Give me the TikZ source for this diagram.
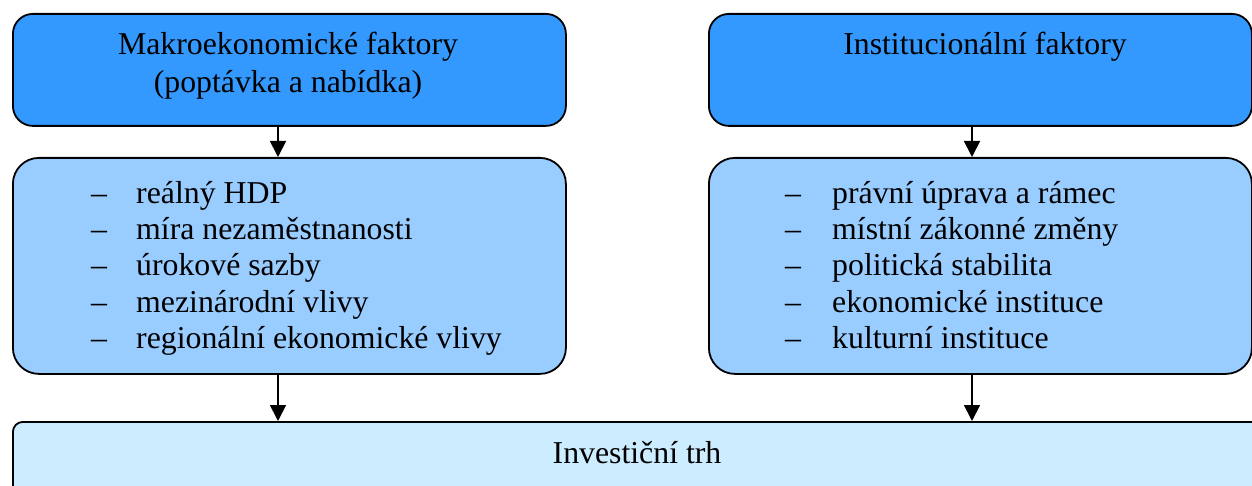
\documentclass[tikz,border=0pt]{standalone}
\usepackage{fontspec}
\setmainfont{Liberation Serif}
\usetikzlibrary{arrows.meta}
\definecolor{topblue}{HTML}{3399FF}
\definecolor{midblue}{HTML}{99CCFF}
\definecolor{lowblue}{HTML}{CCECFF}
\tikzset{
  box/.style={draw=black, line width=1.8pt, rounded corners=#1, anchor=north west, inner sep=0pt},
  txt/.style={font=\fontsize{31.8}{38}\selectfont, inner sep=0pt, anchor=base},
  item/.style={font=\fontsize{31.8}{38}\selectfont, inner sep=0pt, anchor=base west},
  arr/.style={line width=1.8pt, -{Triangle[length=16pt,width=16pt]}}
}
\begin{document}
\begin{tikzpicture}[x=1pt,y=1pt]
\useasboundingbox (0,0) rectangle (1252,-486);
\begin{scope}
\clip (0,0) rectangle (1252,-486);
% boxes
\node[box=20pt, fill=topblue, minimum width=553pt, minimum height=112pt] (tl) at (12,-13) {};
\node[box=20pt, fill=topblue, minimum width=543pt, minimum height=112pt] (tr) at (708,-13) {};
\node[box=26pt, fill=midblue, minimum width=553pt, minimum height=216pt] (ml) at (12,-157) {};
\node[box=26pt, fill=midblue, minimum width=543pt, minimum height=216pt] (mr) at (708,-157) {};
\node[box=10pt, fill=lowblue, minimum width=1270pt, minimum height=100pt] (bt) at (12,-421) {};
% texts
\node[txt] (tl1) at (288,-55) {Makroekonomické faktory};
\node[txt] (tl2) at (288,-93) {(poptávka a nabídka)};
\node[txt] (tr1) at (985,-55) {Institucionální faktory};
\node[txt] (bt1) at (637,-463) {Investiční trh};
\foreach \t [count=\i] in {reálný HDP, míra nezaměstnanosti, úrokové sazby, mezinárodní vlivy, regionální ekonomické vlivy}{
  \node[item] (mld\i) at (91,-168-36*\i) {–};
  \node[item] (mlt\i) at (136,-168-36*\i) {\t};
}
\foreach \t [count=\i] in {právní úprava a rámec, místní zákonné změny, politická stabilita, ekonomické instituce, kulturní instituce}{
  \node[item] (mrd\i) at (785,-168-36*\i) {–};
  \node[item] (mrt\i) at (832,-168-36*\i) {\t};
}
% arrows
\coordinate (xa) at (278,0);
\coordinate (xb) at (972,0);
\draw[arr] (tl.south -| xa) -- (ml.north -| xa);
\draw[arr] (tr.south -| xb) -- (mr.north -| xb);
\draw[arr] (ml.south -| xa) -- (bt.north -| xa);
\draw[arr] (mr.south -| xb) -- (bt.north -| xb);
\end{scope}
\end{tikzpicture}
\end{document}
